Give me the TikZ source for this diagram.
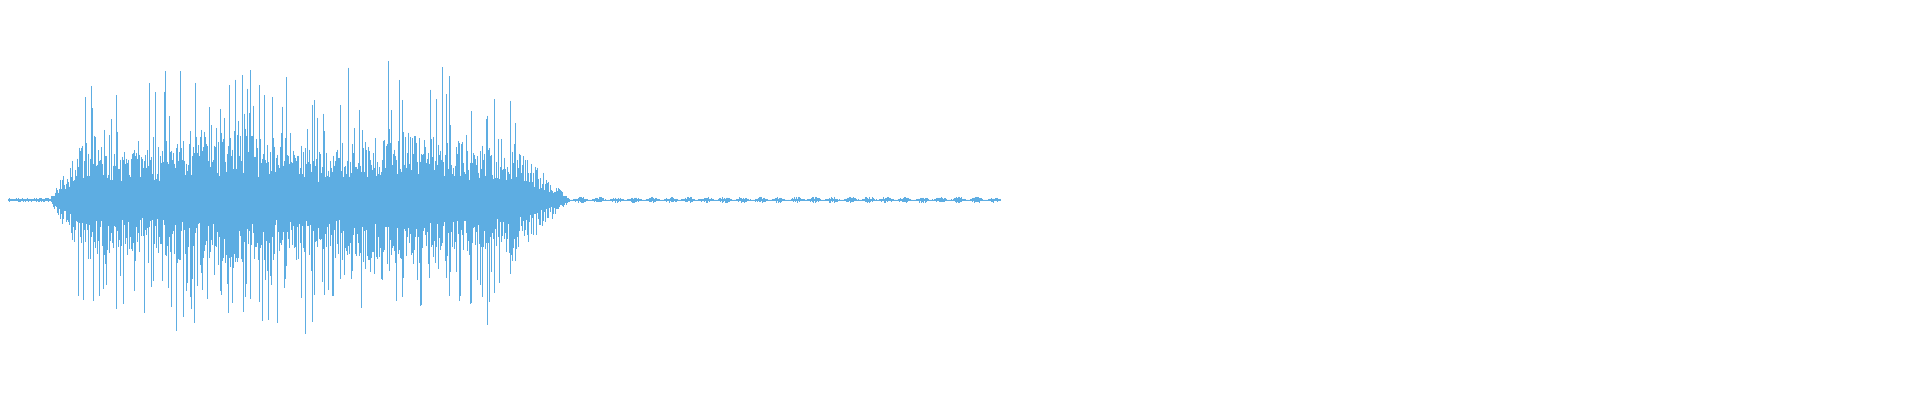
\documentclass[tikz,border=0pt]{standalone}
\definecolor{wave}{HTML}{5DADE2}
\begin{document}
\begin{tikzpicture}[x=0.1mm,y=-0.1mm]
\useasboundingbox (0,0) rectangle (1920,400);
\pgfmathsetseed{42}
\draw[wave,line width=0.08mm] (8,200) -- (1000,200);
\foreach \x in {8,8.7,...,1000}{
  \pgfmathsetmacro{\amp}{\x<50 ? 2 : (\x<80 ? 2+(\x-50)*1.8 : (\x<510 ? 60+8*sin(mod(\x,180)*2) : (\x<570 ? 60-(\x-510)*0.98 : 2+1.5*sin(mod(\x,18)*20))))}
  \pgfmathsetmacro{\sp}{(\x>75 && \x<515) ? 1 : 0}
  \pgfmathsetmacro{\up}{\amp*(0.35+0.65*rnd^1.5)+\sp*90*rnd^9}
  \pgfmathsetmacro{\dn}{\amp*(0.35+0.65*rnd^1.5)+\sp*90*rnd^9}
  \draw[wave,line width=0.06mm] (\x,200-\up) -- (\x,200+\dn);
}
\end{tikzpicture}
\end{document}
